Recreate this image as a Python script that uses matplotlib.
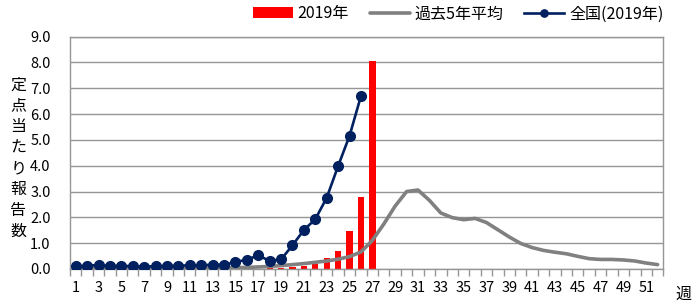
import matplotlib
matplotlib.use('Agg')
import matplotlib.pyplot as plt
import numpy as np

plt.rcParams['font.family'] = ['Noto Sans CJK JP', 'DejaVu Sans']

weeks = list(range(1, 53))

# 2019年 (bars), weeks 1-27
bars_2019 = [0.0, 0.0, 0.0, 0.0, 0.0, 0.0, 0.0, 0.0, 0.0, 0.0,
             0.0, 0.0, 0.0, 0.0, 0.0, 0.01, 0.01, 0.02, 0.03, 0.06,
             0.11, 0.18, 0.41, 0.71, 1.48, 2.8, 8.05]

# 過去5年平均
avg_5y = [0.04, 0.04, 0.04, 0.04, 0.04, 0.04, 0.04, 0.04, 0.04, 0.04,
          0.04, 0.04, 0.04, 0.04, 0.05, 0.06, 0.08, 0.1, 0.13, 0.17,
          0.21, 0.26, 0.31, 0.38, 0.48, 0.66, 1.11, 1.74, 2.44, 3.0,
          3.06, 2.66, 2.17, 1.99, 1.91, 1.96, 1.8, 1.52, 1.24, 0.99,
          0.83, 0.72, 0.65, 0.59, 0.49, 0.4, 0.37, 0.37, 0.35, 0.31,
          0.23, 0.17]

# 全国(2019年), weeks 1-26
nation_2019 = [0.1, 0.13, 0.15, 0.12, 0.12, 0.11, 0.09, 0.11, 0.12, 0.13,
               0.14, 0.14, 0.17, 0.16, 0.27, 0.36, 0.53, 0.31, 0.37, 0.92,
               1.51, 1.93, 2.76, 3.99, 5.16, 6.7]

tick_labels = [str(w) for w in weeks if w % 2 == 1]

fig = plt.figure(figsize=(6.97, 3.07), dpi=100)
ax = fig.add_axes([0.1004, 0.1238, 0.8513, 0.7567])

grid_c = '#969696'
b = ax.bar(weeks[:len(bars_2019)], bars_2019, width=0.55, color='#FF0000',
           label='2019年', zorder=2)
g, = ax.plot(weeks, avg_5y, color='#808080', lw=2.6, label='過去5年平均',
             solid_capstyle='round', zorder=3)
n, = ax.plot(weeks[:len(nation_2019)], nation_2019, color='#002060', lw=1.9,
             marker='o', markersize=7, label='全国(2019年)', zorder=4)

ax.set_xlim(0.5, 52.5)
ax.set_ylim(0, 9)
ax.set_yticks(np.arange(0, 9.01, 1.0))
ax.set_yticklabels([f'{v:.1f}' for v in np.arange(0, 9.01, 1.0)], fontsize=10.5)
ax.yaxis.grid(True, color=grid_c, lw=1.0, zorder=0)
ax.set_axisbelow(True)
ax.tick_params(axis='y', length=0, pad=14)

ax.set_xticks([w for w in weeks if w % 2 == 1])
ax.set_xticklabels(tick_labels, fontsize=10.5)
ax.set_xticks(np.arange(0.5, 53, 1.0), minor=True)
ax.tick_params(axis='x', which='major', length=0, pad=9)
ax.tick_params(axis='x', which='minor', length=5, color=grid_c, width=1.0)

for s in ax.spines.values():
    s.set_color(grid_c)
    s.set_linewidth(1.0)

fig.text(0.026, 0.485, '定\n点\n当\nた\nり\n報\n告\n数', fontsize=11.5,
         ha='center', va='center', linespacing=1.3)
fig.text(0.981, 0.04, '週', fontsize=11.5, ha='center', va='center')

leg = ax.legend(handles=[b, g, n], loc='center right',
                bbox_to_anchor=(1.0, 1.098), ncol=3, frameon=False,
                fontsize=11.5, handlelength=2.5, handletextpad=0.3,
                columnspacing=1.3, borderaxespad=0.0, borderpad=0.0,
                markerscale=0.75)

fig.savefig('out.png', dpi=100)
